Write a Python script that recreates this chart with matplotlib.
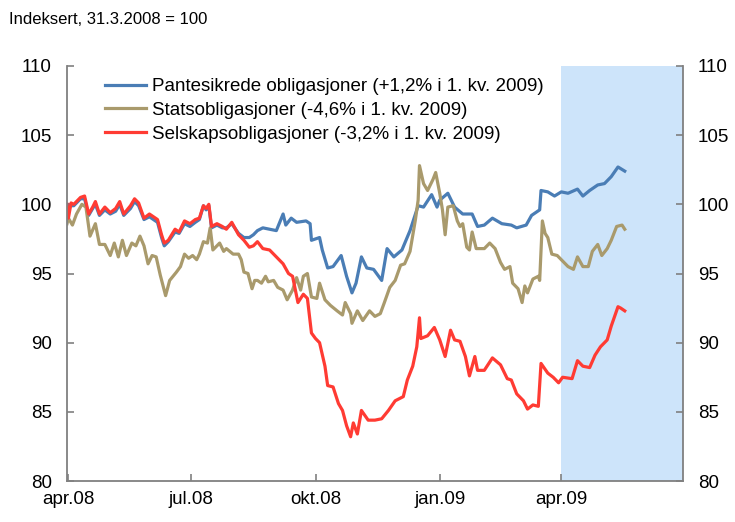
import matplotlib
matplotlib.use("Agg")
import matplotlib.pyplot as plt
import matplotlib.dates as mdates
import pandas as pd

plt.rcParams["font.family"] = ["Liberation Sans", "DejaVu Sans"]

base_date = pd.Timestamp("2008-03-31")  # indeks = 100

# Pantesikrede obligasjoner: dager etter 31.3.2008 og indeksverdi
pant_days = [0, 3, 5, 7, 10, 13, 16, 19, 21, 24, 28, 32, 36, 39, 42, 47, 50, 53, 57, 61,
             67, 70, 72, 75, 80, 83, 87, 91, 95, 98, 101, 103, 105, 107, 111, 115, 118, 122, 127, 131,
             135, 138, 141, 145, 150, 155, 160, 162, 166, 170, 177, 180, 181, 187, 189, 193, 197, 203, 207, 211,
             214, 218, 222, 227, 233, 237, 242, 248, 254, 260, 264, 270, 274, 276, 282, 287, 293, 300, 304, 309,
             315, 322, 329, 333, 340, 344, 350, 351, 356, 361, 366, 371, 378, 382, 387, 393, 398, 403, 408, 413]
pant_vals = [100.0, 99.9, 99.9, 100.1, 100.4, 100.4, 99.2, 99.7, 100.0, 99.2, 99.6, 99.3, 99.5, 100.0, 99.2, 99.7, 100.2, 99.9, 98.9, 99.1,
             98.7, 97.6, 97.0, 97.3, 98.0, 97.9, 98.6, 98.4, 98.7, 98.9, 99.9, 99.6, 99.9, 98.3, 98.5, 98.3, 98.3, 98.6, 97.9, 97.6,
             97.6, 97.8, 98.1, 98.3, 98.2, 98.1, 99.3, 98.5, 99.0, 98.7, 98.8, 98.6, 97.4, 97.6, 96.7, 95.4, 95.5, 96.3, 94.8, 93.6,
             94.3, 96.2, 95.4, 95.3, 94.5, 96.8, 96.2, 96.7, 98.1, 99.9, 99.8, 100.7, 99.8, 100.3, 100.8, 99.8, 99.3, 99.3, 98.4, 98.5,
             99.0, 98.6, 98.5, 98.3, 98.5, 99.2, 99.6, 101.0, 100.9, 100.6, 100.9, 100.8, 101.1, 100.6, 101.0, 101.4, 101.5, 102.0, 102.7, 102.4]

# Statsobligasjoner
stat_days = [0, 1, 4, 7, 11, 14, 17, 21, 24, 28, 32, 35, 38, 41, 44, 48, 51, 54, 57, 60,
             63, 66, 69, 73, 76, 81, 84, 87, 90, 93, 96, 98, 101, 104, 106, 108, 111, 113, 116, 118,
             123, 127, 129, 131, 134, 137, 139, 141, 144, 147, 149, 153, 156, 160, 163, 167, 170, 173, 175, 178,
             181, 185, 187, 191, 195, 200, 204, 206, 210, 211, 215, 219, 224, 228, 232, 235, 239, 243, 247, 250,
             254, 258, 260, 261, 264, 267, 271, 273, 276, 278, 280, 282, 286, 289, 291, 293, 296, 298, 300, 303,
             309, 313, 317, 321, 324, 328, 330, 334, 337, 339, 341, 345, 349, 350, 352, 354, 356, 359, 363, 366,
             371, 375, 378, 382, 386, 389, 393, 396, 400, 403, 407, 411, 413]
stat_vals = [98.6, 99.0, 98.5, 99.3, 100.0, 99.8, 97.7, 98.6, 97.1, 97.1, 96.3, 97.2, 96.2, 97.4, 96.3, 97.2, 97.0, 97.7, 97.0, 95.7,
             96.3, 96.2, 94.9, 93.4, 94.5, 95.1, 95.5, 96.4, 96.1, 96.3, 96.0, 96.4, 97.3, 97.2, 98.3, 96.7, 97.0, 97.2, 96.6, 96.8,
             96.4, 96.4, 96.0, 95.1, 95.0, 93.9, 94.5, 94.5, 94.3, 94.8, 94.4, 94.5, 94.0, 93.8, 93.1, 93.8, 94.7, 93.8, 94.8, 95.0,
             93.3, 93.2, 94.3, 93.1, 92.7, 92.3, 92.0, 92.9, 92.1, 91.4, 92.3, 91.6, 92.3, 91.9, 92.1, 92.9, 94.0, 94.5, 95.6, 95.7,
             96.6, 98.9, 100.3, 102.8, 101.5, 101.0, 101.8, 102.3, 100.8, 99.6, 97.8, 99.8, 99.9, 98.8, 98.4, 98.6, 96.9, 96.7, 98.0, 96.8,
             96.8, 97.2, 96.8, 95.8, 95.3, 95.5, 94.3, 93.9, 92.9, 94.1, 93.6, 94.6, 94.8, 94.5, 98.8, 97.9, 97.6, 96.4, 96.3, 96.0,
             95.5, 95.3, 96.2, 95.5, 95.5, 96.6, 97.1, 96.3, 96.8, 97.4, 98.4, 98.5, 98.2]

# Selskapsobligasjoner
selsk_days = [0, 1, 3, 5, 7, 10, 13, 16, 19, 21, 24, 28, 32, 36, 39, 42, 47, 50, 53, 57,
              61, 67, 70, 72, 75, 80, 83, 87, 91, 95, 98, 101, 103, 105, 107, 111, 115, 118, 122, 127,
              131, 135, 138, 141, 145, 150, 155, 160, 164, 167, 171, 175, 178, 181, 184, 187, 191, 193, 197, 201,
              204, 207, 210, 212, 215, 218, 223, 228, 233, 238, 243, 249, 252, 256, 259, 261, 262, 267, 272, 276,
              280, 284, 287, 291, 295, 298, 302, 304, 309, 315, 321, 326, 329, 333, 338, 341, 345, 349, 351, 356,
              360, 364, 367, 374, 378, 382, 387, 391, 395, 400, 403, 408, 410, 413]
selsk_vals = [100.0, 99.0, 100.1, 100.0, 100.2, 100.5, 100.6, 99.3, 99.8, 100.2, 99.3, 99.8, 99.4, 99.7, 100.2, 99.3, 99.9, 100.4, 100.1, 99.0,
              99.3, 98.9, 97.8, 97.2, 97.4, 98.2, 98.0, 98.8, 98.6, 98.9, 99.0, 99.9, 99.7, 100.0, 98.4, 98.6, 98.4, 98.2, 98.7, 97.8,
              97.4, 96.9, 97.0, 97.3, 96.8, 96.7, 96.2, 95.7, 95.0, 94.8, 92.9, 93.5, 93.2, 90.7, 90.3, 90.0, 88.3, 86.9, 86.8, 85.6,
              85.1, 84.0, 83.2, 84.2, 83.4, 85.1, 84.4, 84.4, 84.5, 85.1, 85.8, 86.1, 87.3, 88.3, 89.7, 91.8, 90.3, 90.5, 91.1, 90.2,
              89.0, 90.9, 90.2, 90.1, 89.0, 87.6, 89.0, 88.0, 88.0, 88.9, 88.4, 87.4, 87.3, 86.3, 85.8, 85.2, 85.5, 85.4, 88.5, 87.8,
              87.5, 87.1, 87.5, 87.4, 88.7, 88.3, 88.2, 89.1, 89.7, 90.2, 91.2, 92.6, 92.5, 92.3]

labels = [
    "Pantesikrede obligasjoner (+1,2% i 1. kv. 2009)",
    "Statsobligasjoner (-4,6% i 1. kv. 2009)",
    "Selskapsobligasjoner (-3,2% i 1. kv. 2009)",
]
colors = ["#4a7db5", "#a99a6c", "#ff3b33"]

tick_dates = ["2008-04-01", "2008-07-01", "2008-10-01", "2009-01-01", "2009-04-01"]
tick_labels = ["apr.08", "jul.08", "okt.08", "jan.09", "apr.09"]
shade_start, x_end = "2009-04-01", "2009-06-30"


def to_dates(days):
    return base_date + pd.to_timedelta(days, unit="D")


fig = plt.figure(figsize=(7.35, 5.22), dpi=100)
ax = fig.add_axes([0.0912, 0.0785, 0.8378, 0.7951])

ax.axvspan(pd.Timestamp(shade_start), pd.Timestamp(x_end), color="#cde4fa", zorder=0, lw=0)

series = [(pant_days, pant_vals), (stat_days, stat_vals), (selsk_days, selsk_vals)]
for (d, v), lab, c in zip(series, labels, colors):
    ax.plot(to_dates(d), v, color=c, lw=2.3, label=lab, solid_joinstyle="round")

ax.set_xlim(base_date, pd.Timestamp(x_end))
ax.set_ylim(80, 110)
ax.set_yticks(range(80, 111, 5))
ax.set_xticks([mdates.date2num(pd.Timestamp(t)) for t in tick_dates])
ax.set_xticklabels(tick_labels)

for s in ["left", "right", "bottom"]:
    ax.spines[s].set_color("#808080")
    ax.spines[s].set_linewidth(1.3)
ax.spines["top"].set_visible(False)

ax.tick_params(axis="y", direction="in", length=5, width=1.2, color="#808080",
               labelsize=13.5, pad=11, left=True, right=True, labelleft=True, labelright=True)
ax.tick_params(axis="x", direction="in", length=5, width=1.2, color="#808080",
               labelsize=13.5, pad=7)

ax.legend(loc="upper left", bbox_to_anchor=(0.042, 1.0), frameon=False, fontsize=13.5,
          handlelength=2.2, handletextpad=0.3, labelspacing=0.35, borderaxespad=0.25)

fig.text(0.012, 0.962, "Indeksert, 31.3.2008 = 100", fontsize=12, va="center", ha="left")

fig.savefig("out.png", dpi=100)
